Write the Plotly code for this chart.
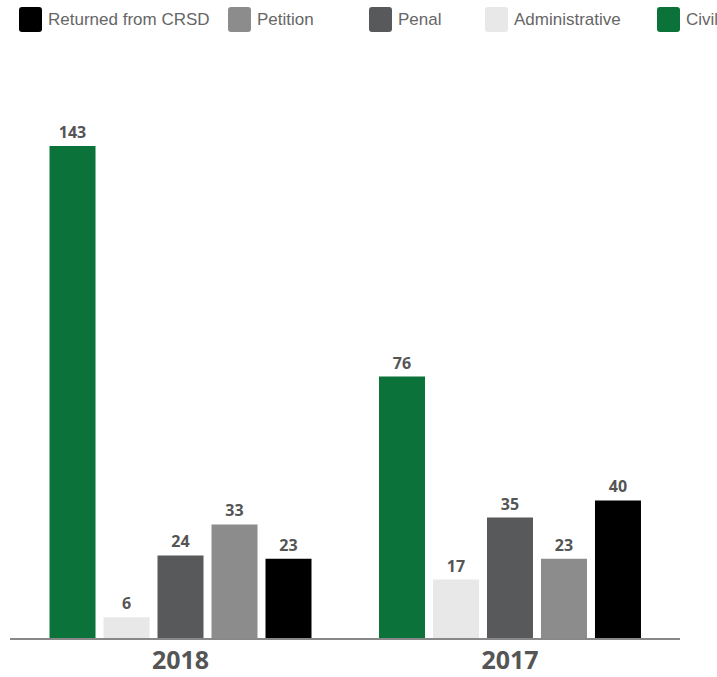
import plotly.graph_objects as go

years = ["2018", "2017"]
series_names = ["Civil", "Administrative", "Penal", "Petition", "Returned from CRSD"]
civil = [143, 76]
administrative = [6, 17]
penal = [24, 35]
petition = [33, 23]
returned = [23, 40]
series_values = [civil, administrative, penal, petition, returned]
colors = ["#0b733a", "#e8e8e8", "#58595b", "#8c8c8c", "#000000"]

legend_order = ["Returned from CRSD", "Petition", "Penal", "Administrative", "Civil"]
legend_px = [19, 228, 369, 485, 657]

W, H = 717, 677
ML, MR, MT, MB = 10, 37, 60, 39
PW = W - ML - MR
PH = H - MT - MB

fig = go.Figure()
for name, vals, col in zip(series_names, series_values, colors):
    fig.add_trace(go.Bar(
        x=years, y=vals, name=name, marker=dict(color=col, line=dict(width=0)),
        text=vals, textposition="outside", cliponaxis=False,
        textfont=dict(family="Open Sans", size=16, color="#555555", weight="bold"),
        showlegend=False, hoverinfo="skip",
    ))

shapes = []
annotations = []
for name, px in zip(legend_order, legend_px):
    col = colors[series_names.index(name)]
    cx = (px + 11.5 - ML) / PW
    cy = (H - MB - 19.5) / PH
    r = 3
    w2, h2 = 11.5, 12.5
    path = (f"M{-w2+r},{-h2} L{w2-r},{-h2} Q{w2},{-h2} {w2},{-h2+r} "
            f"L{w2},{h2-r} Q{w2},{h2} {w2-r},{h2} L{-w2+r},{h2} "
            f"Q{-w2},{h2} {-w2},{h2-r} L{-w2},{-h2+r} Q{-w2},{-h2} {-w2+r},{-h2} Z")
    shapes.append(dict(type="path", xref="paper", yref="paper",
                       xsizemode="pixel", ysizemode="pixel",
                       xanchor=cx, yanchor=cy, path=path,
                       fillcolor=col, line=dict(width=0), layer="above"))
    annotations.append(dict(text=name, xref="paper", yref="paper",
                            x=(px + 27 - ML) / PW, y=cy, xanchor="left", yanchor="middle",
                            showarrow=False,
                            font=dict(family="Liberation Sans", size=17, color="#666666")))

fig.update_layout(
    width=W, height=H,
    margin=dict(l=ML, r=MR, t=MT, b=MB, autoexpand=False),
    paper_bgcolor="white", plot_bgcolor="white",
    barmode="group", bargap=0.1806, bargroupgap=0.148,
    showlegend=False,
    xaxis=dict(type="category", range=[-0.5175, 1.516], showline=True,
               linecolor="#888888", linewidth=2, ticks="", showgrid=False,
               automargin=False,
               tickfont=dict(family="Open Sans", size=25, color="#555555", weight="bold"),
               ticklabelstandoff=-1, fixedrange=True),
    yaxis=dict(range=[0, 168.0], visible=False, showgrid=False, zeroline=False,
               automargin=False, fixedrange=True),
    shapes=shapes, annotations=annotations,
)

fig.write_html("out.html", config={"displayModeBar": False, "staticPlot": True},
               post_script="document.body.style.margin='0';")
